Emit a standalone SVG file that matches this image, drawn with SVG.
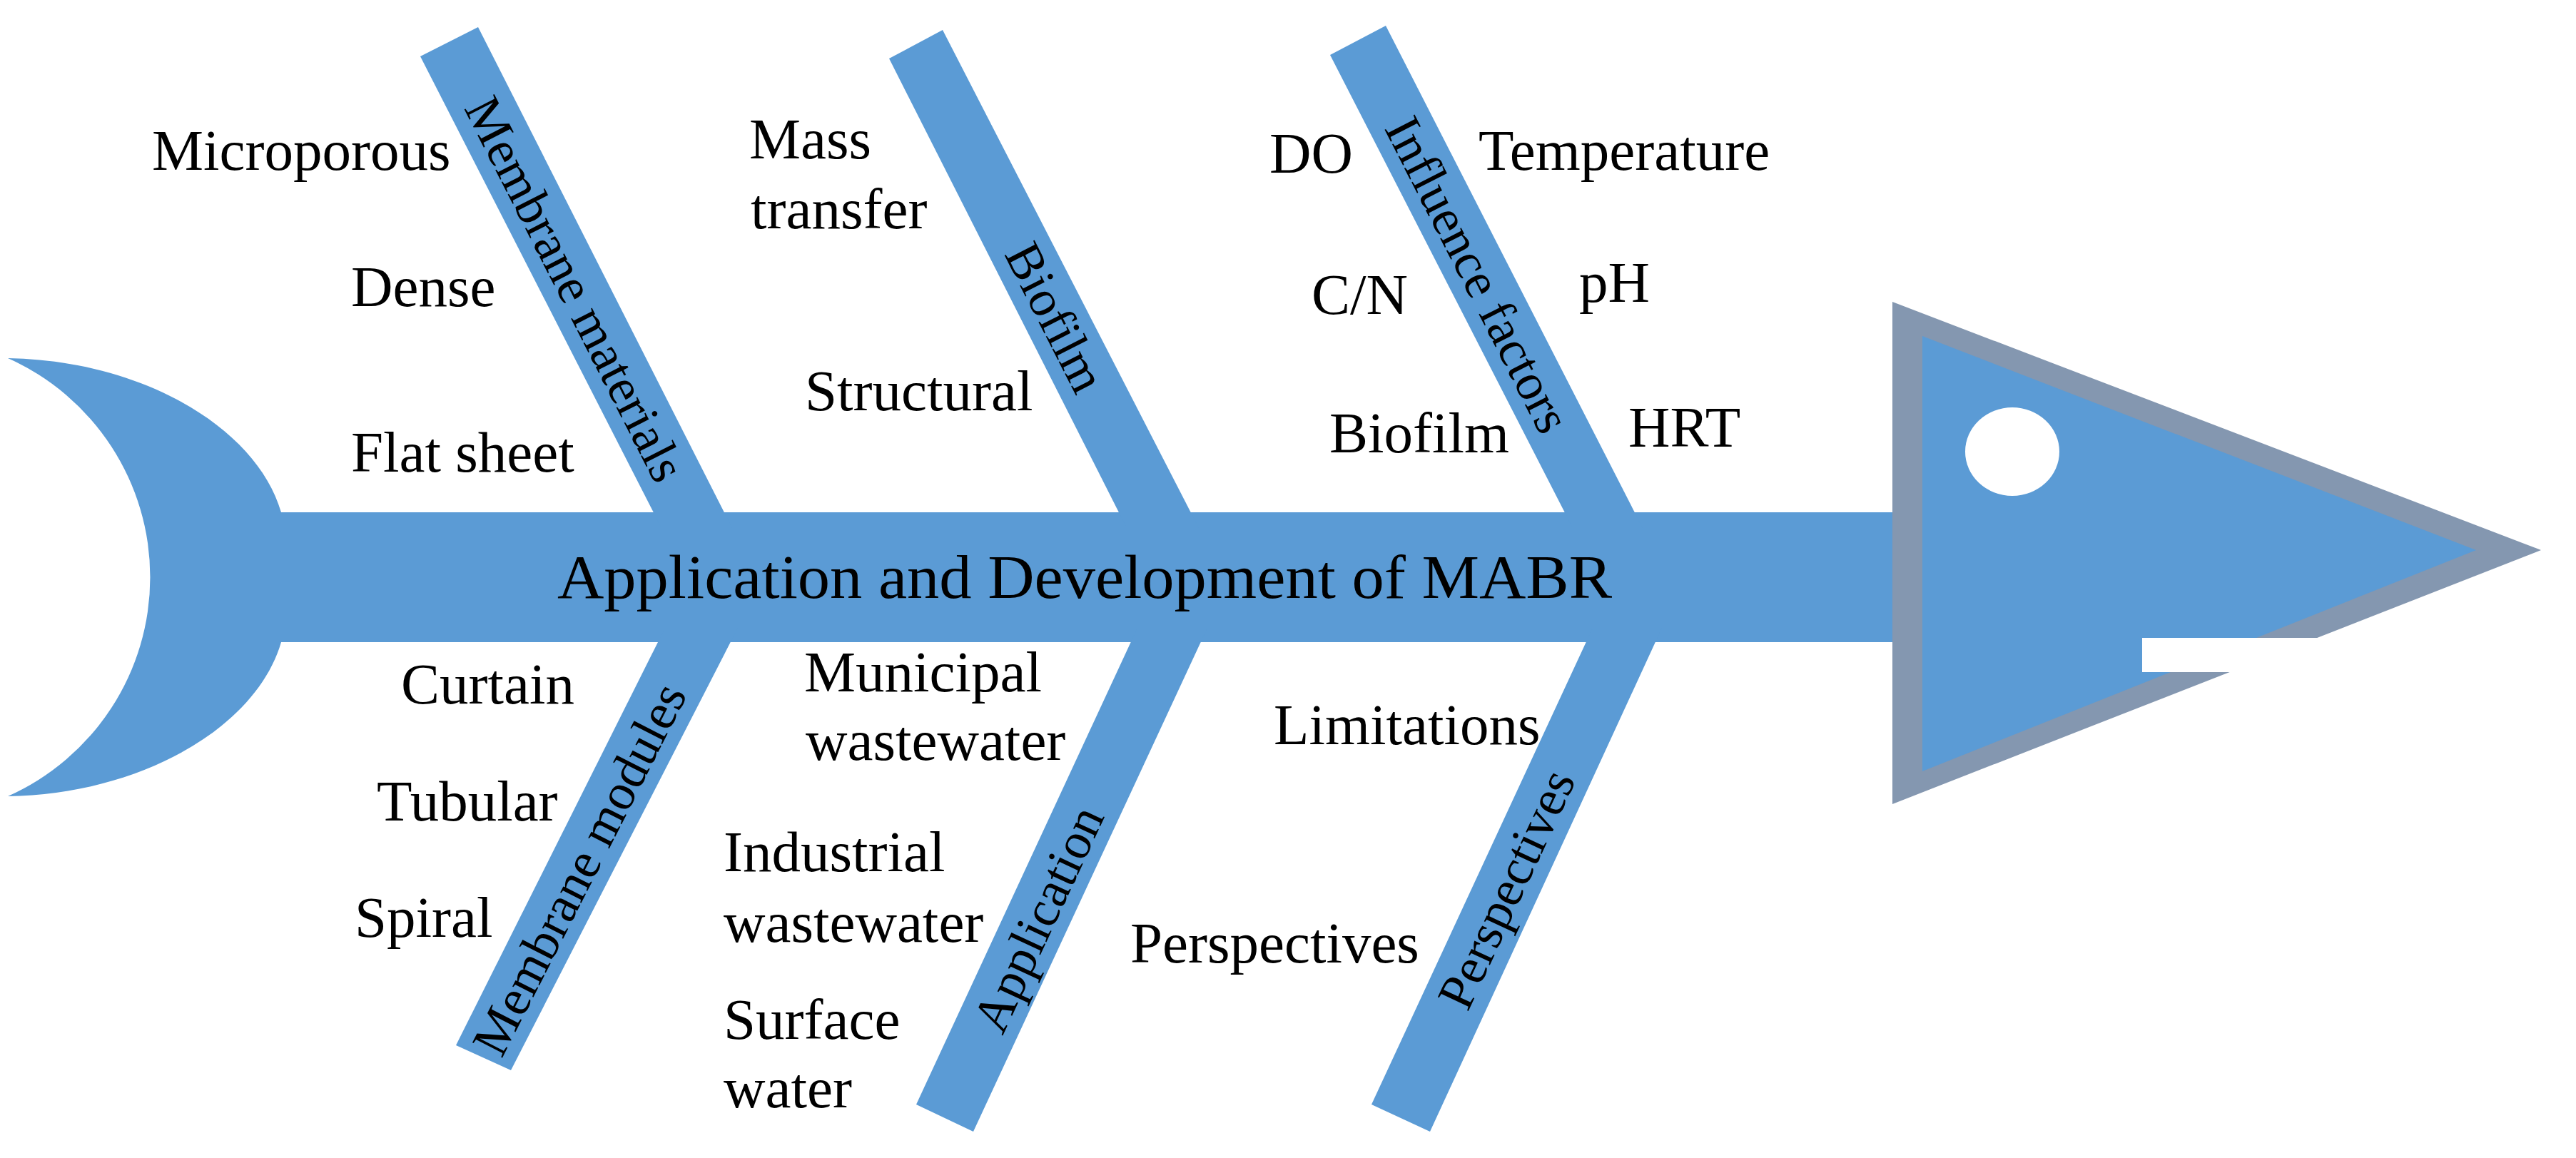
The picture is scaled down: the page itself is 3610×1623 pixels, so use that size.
<svg xmlns="http://www.w3.org/2000/svg" width="3610" height="1623" viewBox="0 0 3610 1623">
<style>
.b{fill:#5B9BD5}
.t{font-family:"Liberation Serif","Times New Roman",serif;font-size:81px;fill:#000}
.bl{font-family:"Liberation Serif","Times New Roman",serif;font-size:72px;fill:#000;text-anchor:middle}
</style>
<rect width="3610" height="1623" fill="#fff"/>
<g id="connectors">
<path id="tail" class="b" d="M11,502 C200,505 360,600 394,718 L394,900 C360,1018 200,1113 11,1116 A336 336 0 0 0 11,502 Z"/>
<rect id="spine" class="b" x="390" y="718" width="2270" height="182"/>
</g>
<g id="head">
<polygon points="2652,423 3561,771 2652,1127" fill="#8497B0"/>
<polygon class="b" points="2694,471 3470,771 2694,1081"/>
<ellipse cx="2820" cy="633" rx="66" ry="62" fill="#fff"/>
<rect x="3002" y="894" width="252" height="48" fill="#fff"/>
</g>
<g id="title">
<text class="t" x="781" y="838" style="font-size:86px" textLength="1478" lengthAdjust="spacingAndGlyphs">Application and Development of MABR</text>
</g>
<g id="membrane-materials">
<polygon class="b" points="589,79 670,38 1026,740 927,740"/>
<text class="bl" transform="translate(806,405) rotate(63)" y="24">Membrane materials</text>
<text class="t" x="213" y="238">Microporous</text>
<text class="t" x="492" y="429">Dense</text>
<text class="t" x="492" y="661">Flat sheet</text>
</g>
<g id="biofilm">
<polygon class="b" points="1246,82 1321,42 1680,740 1579,740"/>
<text class="bl" transform="translate(1479,445) rotate(63)" y="24">Biofilm</text>
<text class="t" x="1050" y="222">Mass</text>
<text class="t" x="1052" y="320">transfer</text>
<text class="t" x="1128" y="575">Structural</text>
</g>
<g id="influence-factors">
<polygon class="b" points="1864,77 1942,36 2302,740 2204,740"/>
<text class="bl" transform="translate(2071,385) rotate(63)" y="24">Influence factors</text>
<text class="t" x="1779" y="242">DO</text>
<text class="t" x="2072" y="238">Temperature</text>
<text class="t" x="1838" y="440">C/N</text>
<text class="t" x="2213" y="423">pH</text>
<text class="t" x="1863" y="634">Biofilm</text>
<text class="t" x="2282" y="626">HRT</text>
</g>
<g id="membrane-modules">
<polygon class="b" points="932,880 1034,880 716,1500 639,1465"/>
<text class="bl" transform="translate(812,1218) rotate(-63)" y="24">Membrane modules</text>
<text class="t" x="562" y="986">Curtain</text>
<text class="t" x="528" y="1150">Tubular</text>
<text class="t" x="497" y="1313">Spiral</text>
</g>
<g id="application">
<polygon class="b" points="1594,880 1692,880 1364,1586 1284,1548"/>
<text class="bl" transform="translate(1455,1288) rotate(-65)" y="24">Application</text>
<text class="t" x="1127" y="969">Municipal</text>
<text class="t" x="1129" y="1065">wastewater</text>
<text class="t" x="1014" y="1221">Industrial</text>
<text class="t" x="1014" y="1320">wastewater</text>
<text class="t" x="1014" y="1456">Surface</text>
<text class="t" x="1014" y="1552">water</text>
</g>
<g id="perspectives">
<polygon class="b" points="2232,880 2329,880 2004,1586 1922,1548"/>
<text class="bl" transform="translate(2111,1246) rotate(-65)" y="24">Perspectives</text>
<text class="t" x="1785" y="1043">Limitations</text>
<text class="t" x="1584" y="1349">Perspectives</text>
</g>
</svg>
